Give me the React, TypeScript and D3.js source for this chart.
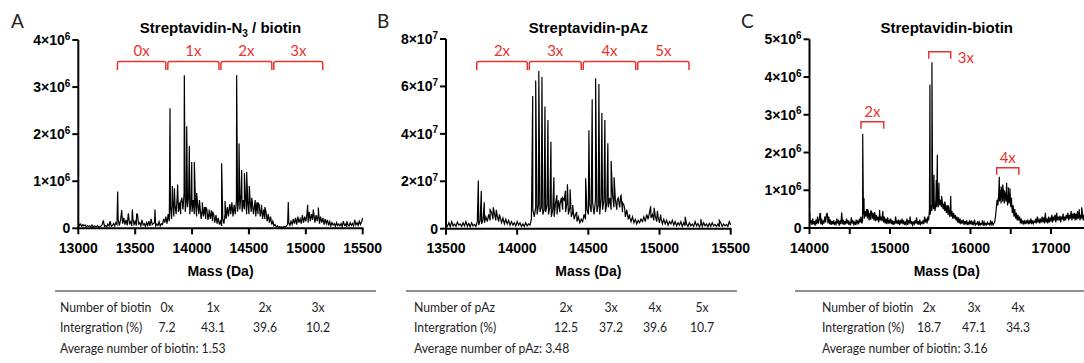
import React from 'react';
import * as d3 from 'd3';

// ---------- DATA ----------
// Panel A (intensity in units of 1e6), noise every 10 Da from 13000
const noiseStartA = 13000;
const noiseStepA = 10;
const noiseA = [
  0.12,0.06,0.09,0.04,0.08,0.05,0.07,0.03,0.06,0.04,
  0.05,0.03,0.07,0.02,0.05,0.04,0.03,0.06,0.02,0.04,
  0.05,0.08,0.17,0.04,0.06,0.03,0.09,0.05,0.15,0.04,
  0.06,0.1,0.05,0.12,0.08,0.2,0.06,0.15,0.35,0.1,
  0.22,0.08,0.18,0.06,0.32,0.1,0.14,0.05,0.2,0.08,
  0.15,0.06,0.3,0.09,0.12,0.05,0.18,0.07,0.1,0.04,
  0.12,0.06,0.15,0.05,0.2,0.08,0.1,0.12,0.05,0.09,
  0.06,0.14,0.05,0.1,0.08,0.2,0.12,0.25,0.1,0.3,
  0.15,0.45,0.2,0.6,0.25,0.5,0.3,0.7,0.35,0.55,
  0.3,0.65,0.4,0.75,0.35,0.6,0.45,0.7,0.3,0.55,
  0.35,0.6,0.3,0.55,0.25,0.5,0.3,0.45,0.2,0.4,
  0.25,0.45,0.2,0.4,0.18,0.35,0.2,0.38,0.15,0.3,
  0.12,0.28,0.1,0.22,0.08,0.15,0.05,0.2,0.1,0.3,
  0.2,0.45,0.25,0.5,0.3,0.55,0.25,0.5,0.3,0.6,
  0.35,0.65,0.4,0.7,0.35,0.6,0.4,0.65,0.3,0.55,
  0.3,0.6,0.35,0.55,0.3,0.5,0.25,0.55,0.3,0.5,
  0.25,0.45,0.2,0.4,0.2,0.35,0.15,0.3,0.12,0.25,
  0.08,0.15,0.05,0.08,0.03,0.05,0.02,0.04,0.02,0.03,
  0.02,0.04,0.03,0.05,0.08,0.12,0.06,0.15,0.08,0.2,
  0.1,0.22,0.08,0.25,0.12,0.2,0.1,0.28,0.12,0.25,
  0.15,0.3,0.12,0.35,0.15,0.3,0.18,0.32,0.12,0.28,
  0.15,0.3,0.1,0.25,0.12,0.22,0.08,0.2,0.1,0.18,
  0.06,0.14,0.05,0.12,0.07,0.1,0.04,0.12,0.06,0.09,
  0.05,0.1,0.04,0.15,0.06,0.09,0.03,0.08,0.05,0.12,
  0.06,0.1,0.05,0.18,0.07,0.12,0.06,0.15,0.08,0.14,
  0.22,
];
const peaksA: [number, number][] = [
  [13220,0.17],[13280,0.15],[13346,0.78],[13381,0.39],[13440,0.32],[13475,0.4],[13513,0.3],[13674,0.4],
  [13806,2.55],[13827,0.9],[13845,0.85],[13873,0.93],[13900,0.55],[13932,3.25],[13953,2.17],[13976,1.75],
  [13997,1.41],[14020,1.41],[14040,0.75],[14065,0.6],[14090,0.55],[14120,0.45],[14150,0.4],[14180,0.35],
  [14260,1.38],[14290,0.58],[14333,0.5],[14392,3.25],[14413,1.8],[14436,1.24],[14460,1.17],[14480,1.2],
  [14503,0.9],[14525,0.65],[14555,0.6],[14580,0.55],[14610,0.5],[14640,0.45],[14690,0.25],[14846,0.56],
  [15016,0.5],[15066,0.4],[15110,0.44],[15360,0.15],
];
const bracketEdgesA = [13335, 13778, 14245, 14710, 15158];
const bracketLabelsA = ['0x', '1x', '2x', '3x'];

// Panel B (units of 1e7), noise every 10 Da from 13500
const noiseStartB = 13500;
const noiseStepB = 10;
const noiseB = [
  0.2,0.1,0.25,0.08,0.3,0.12,0.2,0.1,0.28,0.15,
  0.2,0.1,0.25,0.12,0.3,0.1,0.22,0.08,0.25,0.12,
  0.18,0.1,0.3,0.15,0.35,0.2,0.4,0.25,0.5,0.3,
  0.6,0.35,0.7,0.4,0.65,0.35,0.55,0.3,0.5,0.25,
  0.45,0.2,0.4,0.2,0.35,0.15,0.3,0.15,0.25,0.12,
  0.3,0.15,0.25,0.1,0.2,0.1,0.25,0.12,0.2,0.15,
  0.4,0.8,0.5,0.9,0.6,1.0,0.7,0.9,0.6,0.8,
  0.7,1.0,0.6,0.9,0.5,0.8,0.5,1.1,0.6,1.2,
  0.7,1.3,0.8,1.2,0.7,1.1,0.6,0.9,0.5,0.7,
  0.4,0.6,0.3,0.5,0.25,0.4,0.3,0.6,0.4,0.8,
  0.6,1.0,0.7,1.1,0.6,1.2,0.7,1.0,0.6,1.3,
  0.8,1.2,0.7,1.1,0.9,1.3,0.8,1.4,0.9,1.2,
  0.8,1.3,0.9,1.4,0.7,1.0,0.5,0.8,0.4,0.6,
  0.3,0.5,0.25,0.4,0.2,0.35,0.25,0.4,0.3,0.5,
  0.3,0.6,0.4,0.7,0.45,0.6,0.35,0.55,0.3,0.5,
  0.25,0.45,0.2,0.4,0.2,0.35,0.15,0.3,0.2,0.35,
  0.15,0.3,0.12,0.25,0.15,0.3,0.1,0.25,0.12,0.2,
  0.1,0.25,0.12,0.2,0.1,0.3,0.12,0.22,0.08,0.2,
  0.1,0.25,0.12,0.2,0.08,0.22,0.1,0.25,0.12,0.18,
  0.1,0.2,0.08,0.25,0.1,0.2,0.12,0.18,0.1,0.3,
  0.15,
];
const peaksB: [number, number][] = [
  [13727,2.03],[13748,1.59],[13769,1.11],[13810,0.8],[13832,0.9],[13853,0.8],[13875,0.6],
  [14109,5.6],[14130,6.25],[14152,6.65],[14174,6.4],[14195,5.15],[14216,4.58],[14237,3.67],[14258,2.17],
  [14279,1.42],[14300,1.0],[14320,1.3],[14339,1.6],[14353,1.87],[14372,1.66],[14390,1.0],[14418,0.7],
  [14481,2.13],[14504,4.15],[14527,5.46],[14551,6.34],[14574,6.1],[14595,4.88],[14616,4.58],[14637,3.6],
  [14660,2.86],[14681,2.17],[14703,1.2],[14727,1.37],[14740,1.1],[14755,0.85],[14790,0.5],
  [14938,0.95],[14962,0.88],[14985,0.75],[15008,0.6],[15180,0.5],[15290,0.4],[15420,0.35],
];
const bracketEdgesB = [13709, 14078, 14457, 14840, 15214];
const bracketLabelsB = ['2x', '3x', '4x', '5x'];

// Panel C (units of 1e6), noise every 10 Da from 14000
const noiseStartC = 14000;
const noiseStepC = 10;
const noiseC = [
  0.43,0.12,0.2,0.08,0.25,0.1,0.18,0.06,0.22,0.1,
  0.3,0.12,0.2,0.38,0.1,0.25,0.08,0.2,0.12,0.3,
  0.15,0.35,0.4,0.12,0.3,0.1,0.22,0.08,0.18,0.1,
  0.2,0.08,0.15,0.1,0.25,0.12,0.18,0.06,0.2,0.1,
  0.41,0.1,0.22,0.08,0.18,0.1,0.25,0.12,0.2,0.08,
  0.15,0.1,0.28,0.12,0.2,0.1,0.15,0.08,0.22,0.12,
  0.18,0.1,0.25,0.15,0.3,0.12,0.2,0.35,0.25,0.45,
  0.3,0.5,0.25,0.45,0.2,0.4,0.22,0.45,0.25,0.4,
  0.2,0.42,0.18,0.35,0.2,0.3,0.15,0.38,0.2,0.3,
  0.18,0.45,0.15,0.3,0.12,0.25,0.1,0.28,0.12,0.2,
  0.12,0.25,0.1,0.2,0.08,0.18,0.1,0.3,0.12,0.2,
  0.1,0.22,0.08,0.18,0.12,0.25,0.1,0.2,0.08,0.15,
  0.1,0.25,0.08,0.2,0.12,0.3,0.1,0.18,0.08,0.15,
  0.1,0.2,0.12,0.28,0.1,0.18,0.08,0.22,0.1,0.15,
  0.12,0.2,0.1,0.3,0.15,0.25,0.12,0.3,0.2,0.5,
  0.35,0.6,0.45,0.7,0.5,0.6,0.45,0.75,0.55,0.8,
  0.55,0.8,0.6,0.75,0.55,0.7,0.5,0.65,0.45,0.6,
  0.4,0.6,0.35,0.55,0.3,0.5,0.3,0.45,0.25,0.4,
  0.25,0.35,0.2,0.3,0.15,0.28,0.12,0.25,0.1,0.2,
  0.12,0.22,0.08,0.18,0.1,0.2,0.08,0.15,0.1,0.18,
  0.1,0.2,0.08,0.15,0.1,0.22,0.08,0.12,0.1,0.18,
  0.06,0.15,0.08,0.12,0.1,0.2,0.06,0.15,0.08,0.12,
  0.08,0.15,0.1,0.12,0.08,0.2,0.1,0.15,0.08,0.12,
  0.15,0.3,0.5,0.75,0.6,0.9,0.7,1.0,0.65,0.95,
  0.7,0.95,0.65,0.9,0.7,1.0,0.6,0.85,0.65,0.9,
  0.55,0.8,0.4,0.6,0.3,0.5,0.25,0.4,0.2,0.35,
  0.2,0.3,0.12,0.25,0.1,0.2,0.12,0.18,0.1,0.2,
  0.12,0.22,0.1,0.18,0.12,0.25,0.1,0.2,0.12,0.18,
  0.15,0.25,0.12,0.3,0.15,0.22,0.12,0.25,0.15,0.3,
  0.15,0.28,0.12,0.4,0.15,0.25,0.12,0.3,0.15,0.25,
  0.2,0.35,0.15,0.3,0.2,0.35,0.15,0.4,0.2,0.3,
  0.2,0.32,0.15,0.3,0.22,0.38,0.18,0.3,0.2,0.35,
  0.25,0.4,0.2,0.35,0.25,0.45,0.2,0.38,0.25,0.4,
  0.2,0.38,0.22,0.45,0.25,0.4,0.2,0.35,0.25,0.4,
  0.2,0.35,0.25,0.3,0.2,0.35,0.22,0.3,0.25,0.4,
  0.3,
];
const peaksC: [number, number][] = [
  [14137,0.38],[14220,0.4],[14661,2.49],[14677,0.79],[14720,0.5],[14760,0.45],[14810,0.42],[14870,0.48],
  [15496,3.8],[15521,4.39],[15546,1.41],[15575,1.27],[15588,1.94],[15608,1.2],[15640,0.85],[15680,0.7],
  [15720,0.6],[15754,0.85],[16358,1.36],[16380,1.1],[16400,1.15],[16420,1.0],[16449,1.2],[16470,1.08],
  [16490,1.05],[16510,0.7],[16930,0.4],[17350,0.5],[17380,0.55],
];
const bracketsC: { from: number; to: number; label: string }[] = [
  { from: 14640, to: 14922, label: '2x' },
  { from: 15481, to: 15754, label: '3x' },
  { from: 16326, to: 16600, label: '4x' },
];

// Tick values
const xTicksA = [13000, 13500, 14000, 14500, 15000, 15500];
const yTicksA = [0, 1, 2, 3, 4];
const xTicksB = [13500, 14000, 14500, 15000, 15500];
const yTicksB = [0, 2, 4, 6, 8];
const xTicksC = [14000, 14500, 15000, 15500, 16000, 16500, 17000, 17500];
const xLabelsC = [14000, 15000, 16000, 17000];
const yTicksC = [0, 1, 2, 3, 4, 5];

// Tables
const tableHeaderA = ['Number of biotin', '0x', '1x', '2x', '3x'];
const tableValuesA = ['Intergration (%)', '7.2', '43.1', '39.6', '10.2'];
const tableAvgA = 'Average number of biotin: 1.53';
const tableHeaderB = ['Number of pAz', '2x', '3x', '4x', '5x'];
const tableValuesB = ['Intergration (%)', '12.5', '37.2', '39.6', '10.7'];
const tableAvgB = 'Average number of pAz: 3.48';
const tableHeaderC = ['Number of biotin', '2x', '3x', '4x'];
const tableValuesC = ['Intergration (%)', '18.7', '47.1', '34.3'];
const tableAvgC = 'Average number of biotin: 3.16';

// ---------- STYLE ----------
const RED = '#e8332e';
const AX = "'Liberation Sans', Arial, sans-serif";
const TB = "Lato, 'Open Sans', sans-serif";

function buildSeries(start: number, step: number, noise: number[], peaks: [number, number][]) {
  const pts: [number, number][] = noise.map((v, i) => [start + i * step, v]);
  return pts.concat(peaks).sort((a, b) => a[0] - b[0]);
}

type PanelProps = {
  letter: string;
  letterX: number;
  title: React.ReactNode;
  xDomain: [number, number];
  xRange: [number, number];
  yMax: number;
  yRange: [number, number];
  exp: number;
  yTicks: number[];
  xTicks: number[];
  xLabels: number[];
  axisEnd: number;
  series: [number, number][];
  clipRight: number;
  children?: (x: d3.ScaleLinear<number, number>, y: d3.ScaleLinear<number, number>) => React.ReactNode;
};

function Panel(p: PanelProps) {
  const x = d3.scaleLinear().domain(p.xDomain).range(p.xRange);
  const y = d3.scaleLinear().domain([0, p.yMax]).range(p.yRange);
  const line = d3.line<[number, number]>().x(d => x(d[0])).y(d => y(d[1]));
  const ax0 = p.xRange[0];
  const y0 = p.yRange[0];
  const cx = (p.xRange[0] + Math.min(p.axisEnd, p.xRange[1])) / 2;
  const clipId = 'clip' + p.letter;
  return (
    <g>
      <text x={p.letterX} y={28} fontFamily={TB} fontSize={19} fill="#222">{p.letter}</text>
      <clipPath id={clipId}>
        <rect x={ax0} y={0} width={p.clipRight - ax0} height={y0 + 1} />
      </clipPath>
      <path d={line(p.series) || ''} fill="none" stroke="#000" strokeWidth={1.2} strokeLinejoin="miter" clipPath={`url(#${clipId})`} />
      {/* y axis */}
      <line x1={ax0} x2={ax0} y1={y0 + 1} y2={p.yRange[1]} stroke="#000" strokeWidth={2} />
      {p.yTicks.map(t => (
        <g key={t}>
          <line x1={ax0 - 6} x2={ax0} y1={y(t)} y2={y(t)} stroke="#000" strokeWidth={2} />
          <text x={ax0 - 8} y={y(t) + 5} textAnchor="end" fontFamily={AX} fontWeight="bold" fontSize={14} fill="#000">
            {t === 0 ? '0' : (<>{t}×10<tspan dy={-5.5} fontSize={10}>{p.exp}</tspan></>)}
          </text>
        </g>
      ))}
      {/* x axis */}
      <line x1={ax0 - 1} x2={p.axisEnd} y1={y0} y2={y0} stroke="#000" strokeWidth={2} />
      {p.xTicks.map(t => (
        <line key={t} x1={x(t)} x2={x(t)} y1={y0} y2={y0 + 6} stroke="#000" strokeWidth={2} />
      ))}
      {p.xLabels.map(t => (
        <text key={t} x={x(t)} y={253} textAnchor="middle" fontFamily={AX} fontWeight="bold" fontSize={14} fill="#000">{t}</text>
      ))}
      <text x={cx} y={276} textAnchor="middle" fontFamily={AX} fontWeight="bold" fontSize={14} fill="#000">Mass (Da)</text>
      <text x={cx} y={33} textAnchor="middle" fontFamily={AX} fontWeight="bold" fontSize={15} fill="#000">{p.title}</text>
      {p.children && p.children(x, y)}
    </g>
  );
}

function JoinedBrackets({ x, edges, labels }: { x: (v: number) => number; edges: number[]; labels: string[] }) {
  const top = 61.5, bot = 70;
  return (
    <g>
      {labels.map((lab, i) => {
        const a = x(edges[i]) + 1, b = x(edges[i + 1]) - 1;
        return (
          <g key={lab}>
            <path d={`M${a},${bot} L${a},${top + 2} Q${a},${top} ${a + 2},${top} L${b - 2},${top} Q${b},${top} ${b},${top + 2} L${b},${bot}`}
              fill="none" stroke={RED} strokeWidth={1.5} />
            <text x={(a + b) / 2} y={56} textAnchor="middle" fontFamily={TB} fontSize={15} fill={RED}>{lab}</text>
          </g>
        );
      })}
    </g>
  );
}

function SmallBracket({ a, b, top }: { a: number; b: number; top: number }) {
  const bot = top + 7;
  return <path d={`M${a},${bot} L${a},${top} L${b},${top} L${b},${bot}`} fill="none" stroke={RED} strokeWidth={1.5} />;
}

const SX = 0.91;
function CText({ x, y, anchor, children }: { x: number; y: number; anchor?: string; children: React.ReactNode }) {
  return (
    <text transform={`translate(${x},${y}) scale(${SX},1)`} x={0} y={0} textAnchor={anchor || 'start'}>{children}</text>
  );
}

function Table({ x0, x1, labelX, cols, header, values, avg }: { x0: number; x1: number; labelX: number; cols: number[]; header: string[]; values: string[]; avg: string }) {
  return (
    <g fontFamily={TB} fontSize={13.4} fill="#1e1e1e">
      <line x1={x0} x2={x1} y1={291} y2={291} stroke="#222" strokeWidth={1.2} />
      <CText x={labelX} y={312}>{header[0]}</CText>
      {header.slice(1).map((h, i) => <CText key={h} x={cols[i]} y={312} anchor="middle">{h}</CText>)}
      <CText x={labelX} y={332}>{values[0]}</CText>
      {values.slice(1).map((h, i) => <CText key={i} x={cols[i]} y={332} anchor="middle">{h}</CText>)}
      <CText x={labelX} y={353}>{avg}</CText>
    </g>
  );
}

export default function App() {
  const seriesA = buildSeries(noiseStartA, noiseStepA, noiseA, peaksA);
  const seriesB = buildSeries(noiseStartB, noiseStepB, noiseB, peaksB);
  const seriesC = buildSeries(noiseStartC, noiseStepC, noiseC, peaksC);
  return (
    <svg width={1084} height={363} style={{ position: 'absolute', left: 0, top: 0, background: '#fff' }}>
      <rect x={0} y={0} width={1084} height={363} fill="#fff" />
      <Panel letter="A" letterX={11} title={<>Streptavidin-N<tspan dy={4} fontSize={10}>3</tspan><tspan dy={-4}> / biotin</tspan></>}
        xDomain={[13000, 15500]} xRange={[78.3, 362.7]} yMax={4} yRange={[228.3, 40]} exp={6}
        yTicks={yTicksA} xTicks={xTicksA} xLabels={xTicksA} axisEnd={363.5} series={seriesA} clipRight={363}>
        {(x) => <JoinedBrackets x={x} edges={bracketEdgesA} labels={bracketLabelsA} />}
      </Panel>
      <Panel letter="B" letterX={377} title="Streptavidin-pAz"
        xDomain={[13500, 15500]} xRange={[446, 730.7]} yMax={8} yRange={[228.7, 39]} exp={7}
        yTicks={yTicksB} xTicks={xTicksB} xLabels={xTicksB} axisEnd={731.5} series={seriesB} clipRight={731}>
        {(x) => <JoinedBrackets x={x} edges={bracketEdgesB} labels={bracketLabelsB} />}
      </Panel>
      <Panel letter="C" letterX={741} title="Streptavidin-biotin"
        xDomain={[14000, 18000]} xRange={[809.5, 1131.5]} yMax={5} yRange={[228, 39.3]} exp={6}
        yTicks={yTicksC} xTicks={xTicksC} xLabels={xLabelsC} axisEnd={1084} series={seriesC} clipRight={1084}>
        {(x) => (
          <g>
            <SmallBracket a={x(bracketsC[0].from)} b={x(bracketsC[0].to)} top={121.7} />
            <text x={(x(bracketsC[0].from) + x(bracketsC[0].to)) / 2} y={117} textAnchor="middle" fontFamily={TB} fontSize={15} fill={RED}>{bracketsC[0].label}</text>
            <SmallBracket a={x(bracketsC[1].from)} b={x(bracketsC[1].to)} top={51.7} />
            <text x={x(bracketsC[1].to) + 7} y={63} fontFamily={TB} fontSize={15} fill={RED}>{bracketsC[1].label}</text>
            <SmallBracket a={x(bracketsC[2].from)} b={x(bracketsC[2].to)} top={167.7} />
            <text x={(x(bracketsC[2].from) + x(bracketsC[2].to)) / 2} y={163} textAnchor="middle" fontFamily={TB} fontSize={15} fill={RED}>{bracketsC[2].label}</text>
          </g>
        )}
      </Panel>
      <Table x0={55} x1={376} labelX={60} cols={[167, 213, 265, 318]} header={tableHeaderA} values={tableValuesA} avg={tableAvgA} />
      <Table x0={406} x1={737} labelX={414} cols={[566, 611, 655, 702]} header={tableHeaderB} values={tableValuesB} avg={tableAvgB} />
      <Table x0={795} x1={1084} labelX={822} cols={[929, 974, 1018]} header={tableHeaderC} values={tableValuesC} avg={tableAvgC} />
    </svg>
  );
}
